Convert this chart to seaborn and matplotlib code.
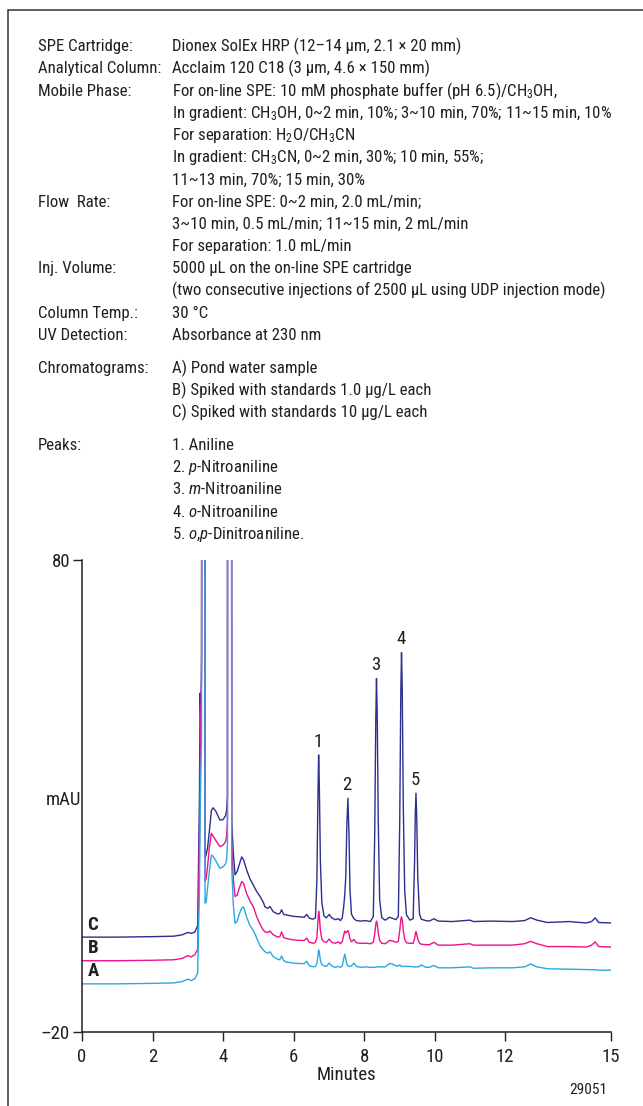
import matplotlib
matplotlib.use("Agg")
from matplotlib import font_manager
import matplotlib.pyplot as plt
from matplotlib.patches import Rectangle
import seaborn as sns

# ---- method conditions printed above the chromatogram ----
condition_labels = [
    "SPE Cartridge:", "Analytical Column:", "Mobile Phase:", "", "", "", "",
    "Flow  Rate:", "", "", "Inj. Volume:", "", "Column Temp.:", "UV Detection:",
]
condition_values = [
    "Dionex SolEx HRP (12\u201314 \u00b5m, 2.1 \u00d7 20 mm)",
    "Acclaim 120 C18 (3 \u00b5m, 4.6 \u00d7 150 mm)",
    "For on-line SPE: 10 mM phosphate buffer (pH 6.5)/CH$_{\\mathrm{3}}$OH,",
    "In gradient: CH$_{\\mathrm{3}}$OH, 0~2 min, 10%; 3~10 min, 70%; 11~15 min, 10%",
    "For separation: H$_{\\mathrm{2}}$O/CH$_{\\mathrm{3}}$CN",
    "In gradient: CH$_{\\mathrm{3}}$CN, 0~2 min, 30%; 10 min, 55%;",
    "11~13 min, 70%; 15 min, 30%",
    "For on-line SPE: 0~2 min, 2.0 mL/min;",
    "3~10 min, 0.5 mL/min; 11~15 min, 2 mL/min",
    "For separation: 1.0 mL/min",
    "5000 \u00b5L on the on-line SPE cartridge",
    "(two consecutive injections of 2500 \u00b5L using UDP injection mode)",
    "30 \u00b0C",
    "Absorbance at 230 nm",
]
chromatogram_labels = ["Chromatograms:", "", ""]
chromatogram_values = [
    "A) Pond water sample",
    "B) Spiked with standards 1.0 \u00b5g/L each",
    "C) Spiked with standards 10 \u00b5g/L each",
]
peak_list_labels = ["Peaks:", "", "", "", ""]
peak_list_values = [
    "1. Aniline",
    "2. $\\mathit{p}$-Nitroaniline",
    "3. $\\mathit{m}$-Nitroaniline",
    "4. $\\mathit{o}$-Nitroaniline",
    "5. $\\mathit{o}$,$\\mathit{p}$-Dinitroaniline.",
]

# ---- chromatogram traces (mAU vs. minutes) ----
minutes = [
    0.00, 1.00, 2.00, 2.60, 2.85, 3.00, 3.10, 3.20, 3.28, 3.33,
    3.35, 3.37, 3.39, 3.42, 3.46, 3.49, 3.52, 3.56, 3.61, 3.67,
    3.72, 3.80, 3.91, 4.00, 4.07, 4.10, 4.125, 4.135, 4.235, 4.245,
    4.29, 4.34, 4.40, 4.46, 4.53, 4.58, 4.67, 4.76, 4.86, 4.95,
    5.05, 5.14, 5.19, 5.27, 5.33, 5.42, 5.55, 5.61, 5.66, 5.72,
    5.80, 6.00, 6.18, 6.30, 6.37, 6.45, 6.56, 6.62, 6.66, 6.69,
    6.71, 6.73, 6.76, 6.80, 6.86, 6.93, 7.01, 7.08, 7.18, 7.27,
    7.33, 7.38, 7.42, 7.45, 7.48, 7.51, 7.54, 7.57, 7.60, 7.64,
    7.71, 7.78, 7.90, 8.05, 8.18, 8.26, 8.30, 8.33, 8.35, 8.37,
    8.40, 8.44, 8.50, 8.60, 8.72, 8.80, 8.90, 8.97, 9.01, 9.04,
    9.06, 9.08, 9.11, 9.15, 9.20, 9.30, 9.39, 9.43, 9.45, 9.47,
    9.49, 9.52, 9.57, 9.62, 9.75, 9.85, 9.98, 10.10, 10.50, 11.00,
    11.10, 11.60, 12.20, 12.55, 12.72, 12.90, 13.20, 13.80, 14.30, 14.45,
    14.55, 14.65, 15.00,
]
trace_c = [
    0.1, 0.1, 0.2, 0.3, 0.6, 1.1, 0.9, 1.2, 2.5, 30.0,
    51.8, 45.0, 60.0, 400.0, 400.0, 16.9, 17.5, 19.0, 22.4, 27.0,
    27.5, 26.7, 24.9, 25.0, 25.8, 27.0, 30.0, 400.0, 400.0, 25.0,
    17.9, 13.3, 14.0, 15.5, 17.1, 16.5, 14.3, 12.5, 11.1, 9.8,
    8.7, 7.5, 6.5, 6.2, 6.6, 5.5, 5.0, 5.1, 5.9, 4.9,
    4.8, 4.5, 4.4, 4.3, 4.9, 4.1, 3.9, 4.2, 12.0, 30.0,
    38.7, 32.0, 16.0, 7.5, 4.6, 4.2, 4.9, 4.2, 3.8, 4.0,
    3.6, 4.2, 6.5, 9.0, 13.0, 24.0, 29.5, 22.0, 10.0, 5.0,
    4.0, 3.6, 3.5, 3.6, 3.4, 4.5, 22.0, 46.0, 54.9, 48.0,
    25.0, 8.0, 4.2, 3.7, 4.3, 4.1, 3.8, 4.5, 25.0, 52.0,
    60.4, 53.0, 28.0, 10.0, 4.8, 3.7, 4.0, 16.0, 26.0, 30.6,
    26.0, 13.0, 5.0, 3.9, 3.6, 3.5, 4.0, 3.5, 3.4, 3.7,
    3.4, 3.5, 3.4, 3.6, 4.2, 3.7, 3.2, 3.4, 3.1, 3.4,
    4.2, 3.2, 3.1,
]
trace_b = [
    -4.9, -4.9, -4.8, -4.7, -4.4, -3.8, -4.1, -3.6, -2.5, 20.0,
    35.0, 47.6, 55.0, 400.0, 400.0, 12.0, 12.5, 15.0, 19.0, 22.1,
    21.5, 20.5, 19.3, 19.6, 20.3, 21.5, 25.0, 400.0, 400.0, 20.0,
    12.5, 8.7, 9.0, 10.5, 11.9, 11.5, 9.3, 7.8, 6.5, 4.5,
    2.8, 1.6, 1.2, 1.1, 1.4, 0.6, 0.1, 0.2, 1.2, 0.0,
    -0.2, -0.5, -0.6, -0.6, -0.1, -1.0, -1.2, -1.0, 0.0, 3.5,
    5.6, 4.5, 1.5, -0.3, -0.9, -1.0, -0.3, -1.0, -1.2, -0.9,
    -1.3, -0.8, 0.5, 1.4, 1.0, 1.2, 1.5, 0.8, -0.3, -0.9,
    -0.4, -1.1, -1.2, -1.2, -1.3, -1.0, 0.8, 2.8, 3.5, 3.0,
    1.0, -0.6, -1.2, -1.3, -0.6, -0.7, -1.0, -0.8, 1.5, 3.8,
    4.4, 3.8, 1.5, -0.3, -1.1, -1.2, -1.2, -0.2, 0.8, 1.3,
    0.8, -0.3, -1.2, -1.4, -1.5, -1.5, -1.0, -1.6, -1.6, -1.3,
    -1.6, -1.6, -1.6, -1.3, -0.8, -1.3, -1.9, -1.9, -2.0, -1.6,
    -0.9, -1.9, -2.0,
]
trace_a = [
    -9.8, -9.8, -9.7, -9.6, -9.3, -8.8, -9.1, -8.7, -7.5, 10.0,
    25.0, 35.0, 41.9, 400.0, 400.0, 7.3, 7.5, 10.5, 14.0, 17.5,
    17.2, 16.2, 14.7, 15.0, 15.6, 16.5, 20.0, 400.0, 400.0, 15.0,
    7.0, 3.0, 3.5, 5.0, 6.3, 6.5, 4.3, 2.6, 1.5, 0.0,
    -1.8, -2.6, -3.0, -3.3, -3.0, -4.0, -4.6, -4.7, -3.9, -4.9,
    -5.2, -5.4, -5.5, -5.5, -5.0, -6.0, -6.2, -6.1, -5.5, -4.0,
    -2.6, -3.2, -4.8, -5.7, -6.0, -6.1, -5.4, -6.0, -6.3, -6.1,
    -6.3, -6.0, -4.5, -3.5, -4.5, -5.6, -6.0, -6.1, -6.1, -6.0,
    -5.4, -6.1, -6.3, -6.2, -6.3, -6.3, -6.3, -6.3, -6.2, -6.2,
    -6.2, -6.2, -6.2, -6.2, -5.5, -5.6, -6.0, -6.0, -5.8, -6.0,
    -6.1, -6.1, -6.1, -6.1, -6.1, -6.1, -6.2, -6.2, -6.2, -6.2,
    -6.2, -6.2, -6.1, -5.8, -6.3, -6.3, -5.9, -6.4, -6.4, -6.2,
    -6.5, -6.4, -6.4, -6.2, -5.6, -6.2, -6.6, -6.7, -6.8, -6.8,
    -6.8, -6.9, -6.9,
]
trace_names = ["C", "B", "A"]
trace_colors = ["#2b2f8e", "#ec138c", "#2aa9e0"]

peak_numbers = ["1", "2", "3", "4", "5"]
peak_minutes = [6.71, 7.54, 8.35, 9.06, 9.47]

x_ticks = [0, 2, 4, 6, 8, 10, 12, 15]
y_ticks = [-20, 80]

# ---- style: a narrow sans-serif for all text ----
sns.set_style("ticks")
_available = {f.name for f in font_manager.fontManager.ttflist}
FONT_NAME = next(n for n in ["Roboto Condensed", "Archivo Narrow", "Pragati Narrow",
                             "PT Sans Narrow", "Liberation Sans Narrow", "DejaVu Sans"]
                 if n in _available)
plt.rcParams["font.family"] = [FONT_NAME, "DejaVu Sans"]
plt.rcParams["mathtext.fontset"] = "custom"
plt.rcParams["mathtext.rm"] = FONT_NAME
plt.rcParams["mathtext.it"] = FONT_NAME + ":italic"
plt.rcParams["mathtext.bf"] = FONT_NAME + ":bold"
TEXT_COLOR = "#231f20"
FS = 13

W, H = 643, 1106
fig = plt.figure(figsize=(W / 100, H / 100), dpi=100)
fig.patch.set_facecolor("white")

# frame around the whole panel
fig.add_artist(Rectangle((8 / W, -0.05), 1.2, 1 - 10 / H + 0.05,
                         transform=fig.transFigure, fill=False,
                         edgecolor="#333333", linewidth=1.1))


def fy(px):
    return 1 - px / H


block_texts = []


def put_block(labels, values, first_center, spacing):
    for i, (lab, val) in enumerate(zip(labels, values)):
        base = first_center + i * spacing + 6.3
        if lab:
            block_texts.append(fig.text(38 / W, fy(base), lab, fontsize=FS,
                                        color=TEXT_COLOR, ha="left", va="baseline"))
        block_texts.append(fig.text(172 / W, fy(base), val, fontsize=FS,
                                    color=TEXT_COLOR, ha="left", va="baseline"))


put_block(condition_labels, condition_values, 45.0, 22.2)
put_block(chromatogram_labels, chromatogram_values, 366.7, 22.3)
put_block(peak_list_labels, peak_list_values, 443.3, 22.3)

# size the block so the "(two consecutive injections ...)" line spans the column
widest = next(t for t in block_texts if t.get_text().startswith("(two"))
renderer = fig.canvas.get_renderer()
span = widest.get_window_extent(renderer).width
TEXT_FS = FS * 432.0 / span
for t in block_texts:
    t.set_fontsize(TEXT_FS)
AXIS_FS = TEXT_FS * 1.12

# ---- chromatogram axes ----
ax = fig.add_axes([82 / W, 1 - 1032 / H, 529 / W, 472 / H])
ax.set_facecolor("white")

for name, color, values in zip(trace_names, trace_colors,
                               [trace_c, trace_b, trace_a]):
    sns.lineplot(x=minutes, y=values, ax=ax, color=color, linewidth=1.0,
                 estimator=None, legend=False)
    ax.annotate(name, xy=(minutes[0], values[0]), xytext=(4, 2.5),
                textcoords="offset points", ha="left", va="bottom",
                fontsize=TEXT_FS + 1.5, fontweight="bold", color=TEXT_COLOR)

for num, t in zip(peak_numbers, peak_minutes):
    apex = trace_c[minutes.index(t)]
    ax.annotate(num, xy=(t, apex), xytext=(-0.5, 3), textcoords="offset points",
                ha="center", va="bottom", fontsize=AXIS_FS, color=TEXT_COLOR)

ax.set_xlim(0, 15)
ax.set_ylim(-20, 80)
ax.set_xticks(x_ticks)
ax.set_yticks(y_ticks)
ax.set_yticklabels(["\u201320", "80"])
sns.despine(ax=ax)
for side in ("left", "bottom"):
    ax.spines[side].set_linewidth(1.1)
    ax.spines[side].set_color("#231f20")
ax.tick_params(axis="both", direction="out", length=6.5, width=1.0,
               color="#231f20", labelsize=AXIS_FS, labelcolor=TEXT_COLOR)
ax.tick_params(axis="x", pad=5)
ax.tick_params(axis="y", pad=2)

ax.set_xlabel("Minutes", fontsize=AXIS_FS, color=TEXT_COLOR)
ax.xaxis.set_label_coords(0.5, -(1075 - 1032) / 472)
ax.xaxis.label.set_va("center")
ax.set_ylabel("mAU", fontsize=AXIS_FS, color=TEXT_COLOR, rotation=0,
              ha="center", va="center")
ax.yaxis.set_label_coords((63 - 82) / 529, (1032 - 800) / 472)

fig.text(588 / W, fy(1090), "29051", fontsize=TEXT_FS - 1.0, color=TEXT_COLOR,
         ha="center", va="center")

fig.savefig("out.png", dpi=100)
